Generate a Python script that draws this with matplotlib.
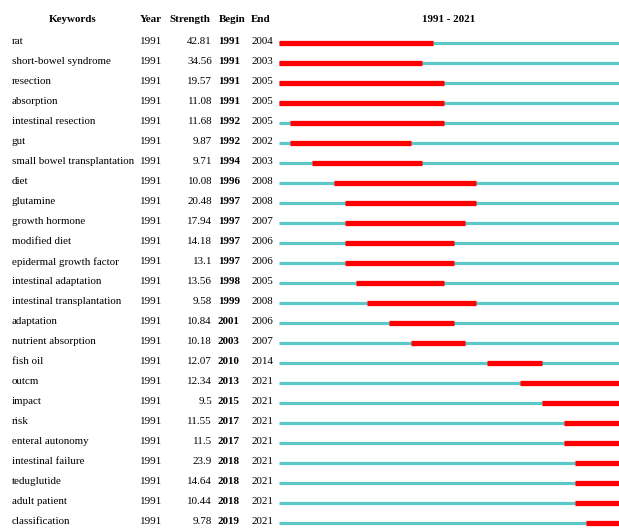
import matplotlib
matplotlib.use("Agg")
import matplotlib.pyplot as plt

keywords = ["rat", "short-bowel syndrome", "resection", "absorption", "intestinal resection",
            "gut", "small bowel transplantation", "diet", "glutamine", "growth hormone",
            "modified diet", "epidermal growth factor", "intestinal adaptation",
            "intestinal transplantation", "adaptation", "nutrient absorption", "fish oil",
            "outcm", "impact", "risk", "enteral autonomy", "intestinal failure",
            "teduglutide", "adult patient", "classification"]
years = [1991] * 25
strengths = ["42.81", "34.56", "19.57", "11.08", "11.68", "9.87", "9.71", "10.08", "20.48",
             "17.94", "14.18", "13.1", "13.56", "9.58", "10.84", "10.18", "12.07", "12.34",
             "9.5", "11.55", "11.5", "23.9", "14.64", "10.44", "9.78"]
begins = [1991, 1991, 1991, 1991, 1992, 1992, 1994, 1996, 1997, 1997, 1997, 1997, 1998,
          1999, 2001, 2003, 2010, 2013, 2015, 2017, 2017, 2018, 2018, 2018, 2019]
ends = [2004, 2003, 2005, 2005, 2005, 2002, 2003, 2008, 2008, 2007, 2006, 2006, 2005,
        2008, 2006, 2007, 2014, 2021, 2021, 2021, 2021, 2021, 2021, 2021, 2021]
range_start, range_end = 1991, 2021

W, H = 619, 530
fig = plt.figure(figsize=(W / 100, H / 100), dpi=100)
plt.rcParams['font.family'] = ['Liberation Serif', 'DejaVu Serif']

ylim = ((H - 43) / 20, -43 / 20)

# text axes in pixel x coords
tax = fig.add_axes([0, 0, 1, 1])
tax.set_xlim(0, W)
tax.set_ylim(*ylim)
tax.axis('off')

# bar axes
x0 = 279
bax = fig.add_axes([x0 / W, 0, 1 - x0 / W, 1])
bax.set_xlim(range_start, range_end + 1)
bax.set_ylim(*ylim)
bax.axis('off')

fs = 7.9
teal = '#5ec8c8'
red = '#ff0000'

hy = (20 - 43) / 20
tax.text(73, hy, "Keywords", ha='center', va='center', fontsize=fs, fontweight='bold')
tax.text(151, hy, "Year", ha='center', va='center', fontsize=fs, fontweight='bold')
tax.text(190, hy, "Strength", ha='center', va='center', fontsize=fs, fontweight='bold')
tax.text(232, hy, "Begin", ha='center', va='center', fontsize=fs, fontweight='bold')
tax.text(261, hy, "End", ha='center', va='center', fontsize=fs, fontweight='bold')
tax.text(449, hy, f"{range_start} - {range_end}", ha='center', va='center', fontsize=fs,
         fontweight='bold')

for i, kw in enumerate(keywords):
    ty = i - 0.05
    tax.text(12, ty, kw, ha='left', va='center', fontsize=fs)
    tax.text(140, ty, str(years[i]), ha='left', va='center', fontsize=fs)
    tax.text(212, ty, strengths[i], ha='right', va='center', fontsize=fs)
    tax.text(218, ty, str(begins[i]), ha='left', va='center', fontsize=fs, fontweight='bold')
    tax.text(251, ty, str(ends[i]), ha='left', va='center', fontsize=fs)
    bax.hlines(i, range_start, range_end + 1, colors=teal, linewidth=2.3, capstyle='butt')
    bax.hlines(i, begins[i], ends[i] + 1, colors=red, linewidth=3.8, capstyle='butt')

fig.savefig("out.png", dpi=100)
